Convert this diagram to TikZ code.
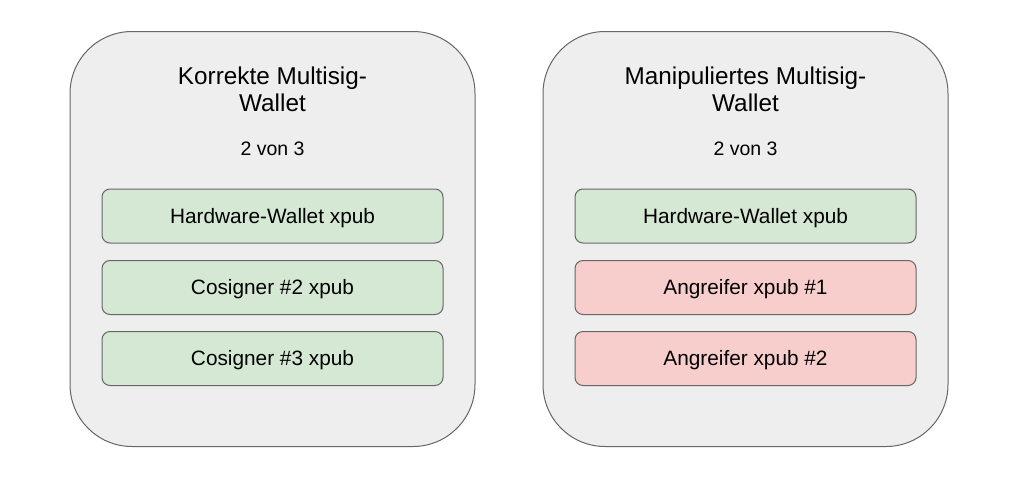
\documentclass[tikz,border=0pt]{standalone}
\usepackage{fontspec}
\setmainfont{Liberation Sans}
\definecolor{panelfill}{HTML}{EEEEEE}
\definecolor{strokegray}{HTML}{666666}
\definecolor{greenfill}{HTML}{D5E8D4}
\definecolor{redfill}{HTML}{F8CECC}
\begin{document}
\begin{tikzpicture}[x=1pt,y=-1pt,
  panel/.style={draw=strokegray, fill=panelfill, line width=1pt, rounded corners=62pt, minimum width=405pt, minimum height=415pt, inner sep=0pt},
  keybox/.style={draw=strokegray, line width=1pt, rounded corners=8pt, minimum width=341pt, minimum height=54pt, inner sep=0pt, text height=0.72em+7pt, text depth=0pt, font=\fontsize{20.8}{24}\selectfont},
  okkey/.style={keybox, fill=greenfill},
  badkey/.style={keybox, fill=redfill},
  title/.style={align=center, font=\fontsize{24.3}{27}\selectfont},
  quorum/.style={font=\fontsize{19.5}{22}\selectfont}
]
\useasboundingbox (0,0) rectangle (1023,477);
% left panel
\node[panel] (lp) at (272.5,239) {};
\node[title] (lt) at (272.5,89) {Korrekte Multisig-\\Wallet};
\node[quorum] (lq) at (272.5,149) {2 von 3};
\node[okkey] (l1) at (272.5,216) {Hardware-Wallet xpub};
\node[okkey] (l2) at (272.5,287.5) {Cosigner \#2 xpub};
\node[okkey] (l3) at (272.5,358.5) {Cosigner \#3 xpub};
% right panel
\node[panel] (rp) at (745.5,239) {};
\node[title] (rt) at (745.5,89) {Manipuliertes Multisig-\\Wallet};
\node[quorum] (rq) at (745.5,149) {2 von 3};
\node[okkey] (r1) at (745.5,216) {Hardware-Wallet xpub};
\node[badkey] (r2) at (745.5,287.5) {Angreifer xpub \#1};
\node[badkey] (r3) at (745.5,358.5) {Angreifer xpub \#2};
\end{tikzpicture}
\end{document}
